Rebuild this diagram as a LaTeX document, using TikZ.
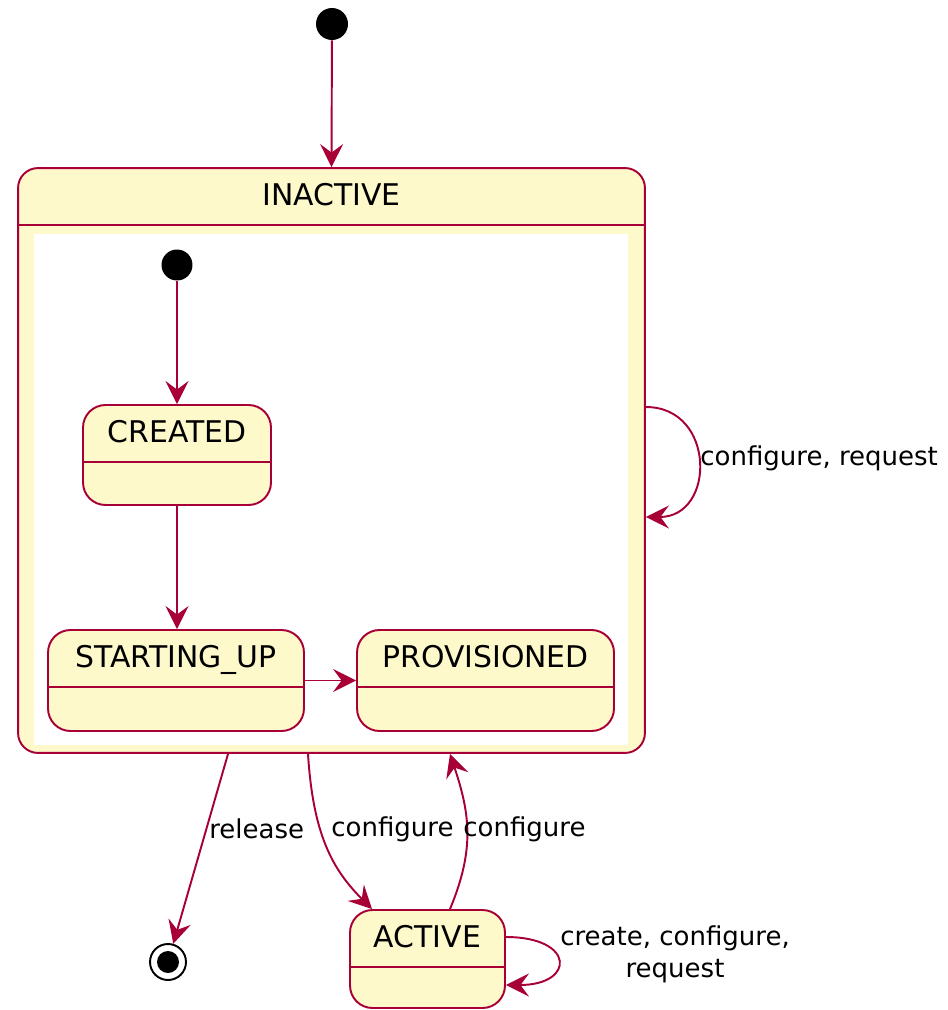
\documentclass[tikz,border=0pt]{standalone}
\usepackage{fontspec}
\setmainfont{DejaVu Sans}
\usetikzlibrary{arrows.meta}
\usetikzlibrary{calc}
\definecolor{umlred}{HTML}{A80036}
\definecolor{umlyellow}{HTML}{FDF9CA}
\tikzset{
  state/.style={draw=umlred, fill=umlyellow, line width=1.1pt, rounded corners=0.45cm, inner sep=0pt},
  trans/.style={draw=umlred, line width=1.1pt, -{Stealth[length=0.46cm, width=0.46cm, inset=0.17cm]}},
  tname/.style={font=\fontsize{17}{20}\selectfont, anchor=base, yshift=-0.77cm},
  tlabel/.style={font=\fontsize{14.8}{18.2}\selectfont, anchor=west, inner sep=0pt},
  dot/.style={circle, fill=black, minimum size=0.64cm, inner sep=0pt},
}

\begin{document}
\begin{tikzpicture}[x=0.02cm, y=-0.02cm]
        \newcommand{\hd}{1.16cm} % header depth
        \useasboundingbox (0,0) rectangle (947,1010);

        \node[dot] (start) at (332,24) {};
        \node[state, rounded corners=0.4cm, minimum width=12.54cm, minimum height=11.7cm,
              label={[tname]north:INACTIVE}] (inactive) at (331.5,460.5) {}; %composite
        \draw[umlred, line width=1.1pt] ([yshift=-\hd]inactive.north west) -- ([yshift=-\hd]inactive.north east);
        \fill[white] (34,234) rectangle (628,745); %inner region

        \node[dot, minimum size=0.62cm] (istart) at (177,265) {};
        \node[state, minimum width=3.76cm, minimum height=2cm, label={[tname]north:CREATED}] (created) at (177,455) {};
        \node[state, minimum width=5.12cm, minimum height=2.02cm, label={[tname]north:STARTING\_UP}] (startup) at (176,680.5) {};
        \node[state, minimum width=5.14cm, minimum height=2.02cm, label={[tname]north:PROVISIONED}] (prov) at (485.5,680.5) {};
        \node[state, minimum width=3.1cm, minimum height=1.96cm, label={[tname]north:ACTIVE}] (active) at (427.5,959) {};
        \foreach \s in {created,startup,prov,active}
            \draw[umlred, line width=1.1pt] ([yshift=-\hd]\s.north west) -- ([yshift=-\hd]\s.north east);

        \node[circle, draw=black, line width=1.1pt, minimum size=0.72cm, inner sep=0pt] (final) at (168,962) {};
        \node[dot, minimum size=0.44cm] (finaldot) at (final.center) {};

        \draw[trans] (start) -- (inactive.north);
        \draw[trans] (istart) -- (created);
        \draw[trans] (created) -- (created |- startup.north);
        \draw[trans] (startup) -- (prov);

        % loop on INACTIVE
        \draw[trans] ([yshift=1.07cm]inactive.east) .. controls +(1.4cm,0) and +(1.4cm,0) .. ([yshift=-1.13cm]inactive.east);
        \node[tlabel] (lconf) at (700,458) {configure, request};

        \draw[trans] ([xshift=-2.07cm]inactive.south) -- (final);
        \node[tlabel] (lrel) at (209,829) {release};

        \draw[trans] ([xshift=-0.47cm]inactive.south) .. controls +(0.1cm,-1.6cm) and +(-0.8cm,0.8cm) .. ([xshift=-1.11cm]active.north);
        \node[tlabel] (lcfgdown) at (331,829) {configure};
        \draw[trans] ([xshift=0.45cm]active.north) .. controls +(0.5cm,1.2cm) and +(0.4cm,-1.2cm) .. ([xshift=2.37cm]inactive.south);
        \node[tlabel] (lcfgup) at (463,829) {configure};

        % loop on ACTIVE
        \draw[trans] ([yshift=0.44cm]active.east) .. controls +(1.39cm,0) and +(1.39cm,0) .. ([yshift=-0.52cm]active.east);
        \node[tlabel, anchor=center, align=center] (lloop) at (675,954) {create, configure,\\request};
\end{tikzpicture}
\end{document}
